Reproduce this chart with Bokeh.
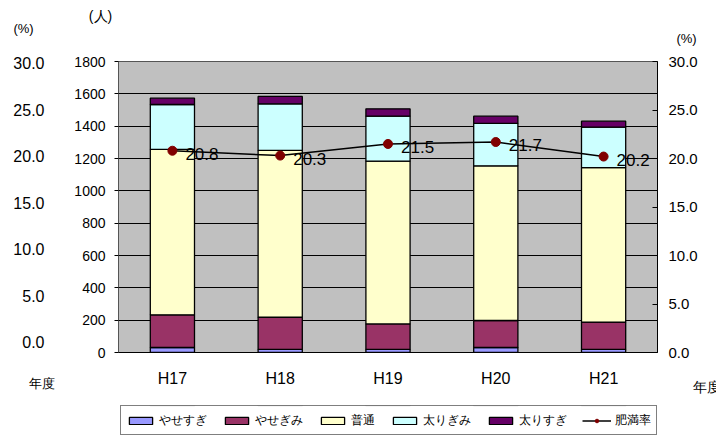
from bokeh.plotting import figure
from bokeh.models import (ColumnDataSource, FactorRange, Range1d, LinearAxis, FixedTicker,
                          NumeralTickFormatter, Label, Legend, LegendItem)
from bokeh.layouts import column
from bokeh.embed import file_html
from bokeh.resources import INLINE
from bokeh.core.properties import value

# 年度別 体格区分の人数と肥満率
years = ["H17", "H18", "H19", "H20", "H21"]
yasesugi = [31, 19, 19, 31, 19]
yasegimi = [202, 199, 158, 167, 169]
futsuu = [1023, 1032, 1007, 957, 955]
futorigimi = [278, 288, 278, 262, 251]
futorisugi = [39, 46, 45, 45, 37]
himanritsu = [20.8, 20.3, 21.5, 21.7, 20.2]

groups = ["やせすぎ", "やせぎみ", "普通", "太りぎみ", "太りすぎ"]
stack_keys = ["yasesugi", "yasegimi", "futsuu", "futorigimi", "futorisugi"]
colors = ["#9999FF", "#993366", "#FFFFCC", "#CCFFFF", "#660066"]
count_ticks = [0, 200, 400, 600, 800, 1000, 1200, 1400, 1600, 1800]
pct_ticks = [0, 5, 10, 15, 20, 25, 30]

FONT = "Liberation Sans"
RATE_COLOR = "#800000"

src = ColumnDataSource(dict(year=years, yasesugi=yasesugi, yasegimi=yasegimi,
                            futsuu=futsuu, futorigimi=futorigimi, futorisugi=futorisugi))


def draw_series(fig):
    """Stacked bars and the obesity-rate line; returns the renderers for the legend."""
    bars = fig.vbar_stack(stack_keys, x="year", width=0.41, source=src,
                          fill_color=colors, line_color="black", line_width=1.3)
    line = fig.line(x=years, y=himanritsu, y_range_name="pct", line_color="black", line_width=1.5)
    dots = fig.scatter(x=years, y=himanritsu, y_range_name="pct", size=9,
                       fill_color=RATE_COLOR, line_color=RATE_COLOR)
    return bars, line, dots


p = figure(width=716, height=405, x_range=FactorRange(factors=years), y_range=Range1d(0, 1800),
           output_backend="svg", toolbar_location=None,
           min_border_left=118, min_border_right=59, min_border_top=61, min_border_bottom=53)
p.background_fill_color = "#C0C0C0"
p.border_fill_color = "white"
p.outline_line_color = "#555555"
p.xgrid.visible = False
p.ygrid.ticker = FixedTicker(ticks=count_ticks)
p.ygrid.grid_line_color = "black"
p.ygrid.grid_line_width = 1

p.extra_y_ranges = {"pct": Range1d(0, 30), "prev_pct": Range1d(-1.075, 30.215)}
draw_series(p)
p.text(x=years, y=himanritsu, text=[f"{v:.1f}" for v in himanritsu], y_range_name="pct",
       x_offset=13, y_offset=3, text_font=value(FONT), text_font_size="17px",
       text_baseline="middle", text_align="left", text_color="black")

# left axis: persons
p.yaxis.ticker = FixedTicker(ticks=count_ticks)
p.yaxis.axis_line_color = "#555555"
p.yaxis.major_tick_in = 0
p.yaxis.major_tick_out = 4
p.yaxis.minor_tick_line_color = None
p.yaxis.major_label_standoff = 9
p.yaxis.major_label_text_font = FONT
p.yaxis.major_label_text_font_size = "14px"
p.yaxis.major_label_text_color = "black"

# % axis of the preceding chart, seen at the far left (labels kept flush left)
prev_axis = LinearAxis(y_range_name="prev_pct", ticker=FixedTicker(ticks=pct_ticks),
                       formatter=NumeralTickFormatter(format="0.0"))
prev_axis.major_label_overrides = {0: "\u20070.0", 5: "\u20075.0"}
prev_axis.axis_line_color = None
prev_axis.major_tick_line_color = None
prev_axis.major_tick_in = 0
prev_axis.major_tick_out = 0
prev_axis.minor_tick_line_color = None
prev_axis.major_label_standoff = 27
prev_axis.major_label_text_font = FONT
prev_axis.major_label_text_font_size = "16px"
prev_axis.major_label_text_color = "black"
p.add_layout(prev_axis, "left")

# right axis: obesity rate
r_axis = LinearAxis(y_range_name="pct", ticker=FixedTicker(ticks=pct_ticks),
                    formatter=NumeralTickFormatter(format="0.0"))
r_axis.axis_line_color = "black"
r_axis.major_tick_in = 5
r_axis.major_tick_out = 0
r_axis.minor_tick_line_color = None
r_axis.major_label_standoff = 11
r_axis.major_label_text_font = FONT
r_axis.major_label_text_font_size = "15px"
r_axis.major_label_text_color = "black"
p.add_layout(r_axis, "right")

# bottom axis: fiscal years
p.xaxis.axis_line_color = "black"
p.xaxis.major_tick_line_color = None
p.xaxis.major_tick_in = 0
p.xaxis.major_tick_out = 0
p.xaxis.major_label_standoff = 17
p.xaxis.major_label_text_font = FONT
p.xaxis.major_label_text_font_size = "16px"
p.xaxis.major_label_text_color = "black"

# units and captions, kept in the side panels and placed in canvas pixels
def caption(text, x, y, size, side, align="center"):
    p.add_layout(Label(x=x, y=y, x_units="canvas", y_units="canvas", text=text,
                       text_align=align, text_baseline="middle",
                       text_font=FONT, text_font_size=size, text_color="black"), side)

caption("(人)", 100, 15, "14px", "above")
caption("(%)", 23, 28, "13px", "above")
caption("(%)", 686, 38, "13px", "above")
caption("年度", 28, 383, "13px", "above", "left")
caption("年度", 692, 386, "14px", "below", "left")

# legend strip under the chart; its series sit outside the strip's visible range
lg = figure(width=716, height=31, x_range=FactorRange(factors=years), y_range=Range1d(-2, -1),
            output_backend="svg", toolbar_location=None,
            x_axis_location=None, y_axis_location=None,
            min_border_left=118, min_border_right=59, min_border_top=0, min_border_bottom=0)
lg.extra_y_ranges = {"pct": Range1d(-2, -1)}
lg.outline_line_color = None
lg.background_fill_color = "white"
lg.border_fill_color = "white"
lg.xgrid.visible = False
lg.ygrid.visible = False
k_bars, k_line, k_dots = draw_series(lg)
keys = [LegendItem(label=g, renderers=[r]) for g, r in zip(groups, k_bars)]
keys.append(LegendItem(label="肥満率", renderers=[k_line, k_dots]))
legend = Legend(items=keys, location=(2, 1), orientation="horizontal", margin=0,
                glyph_width=29, glyph_height=9, label_standoff=4, spacing=15, padding=5,
                label_height=18, label_text_font=FONT, label_text_font_size="12px",
                label_text_color="black",
                border_line_color="black", background_fill_color="white")
lg.add_layout(legend)

open("out.html", "w").write(file_html(column(p, lg), INLINE))
